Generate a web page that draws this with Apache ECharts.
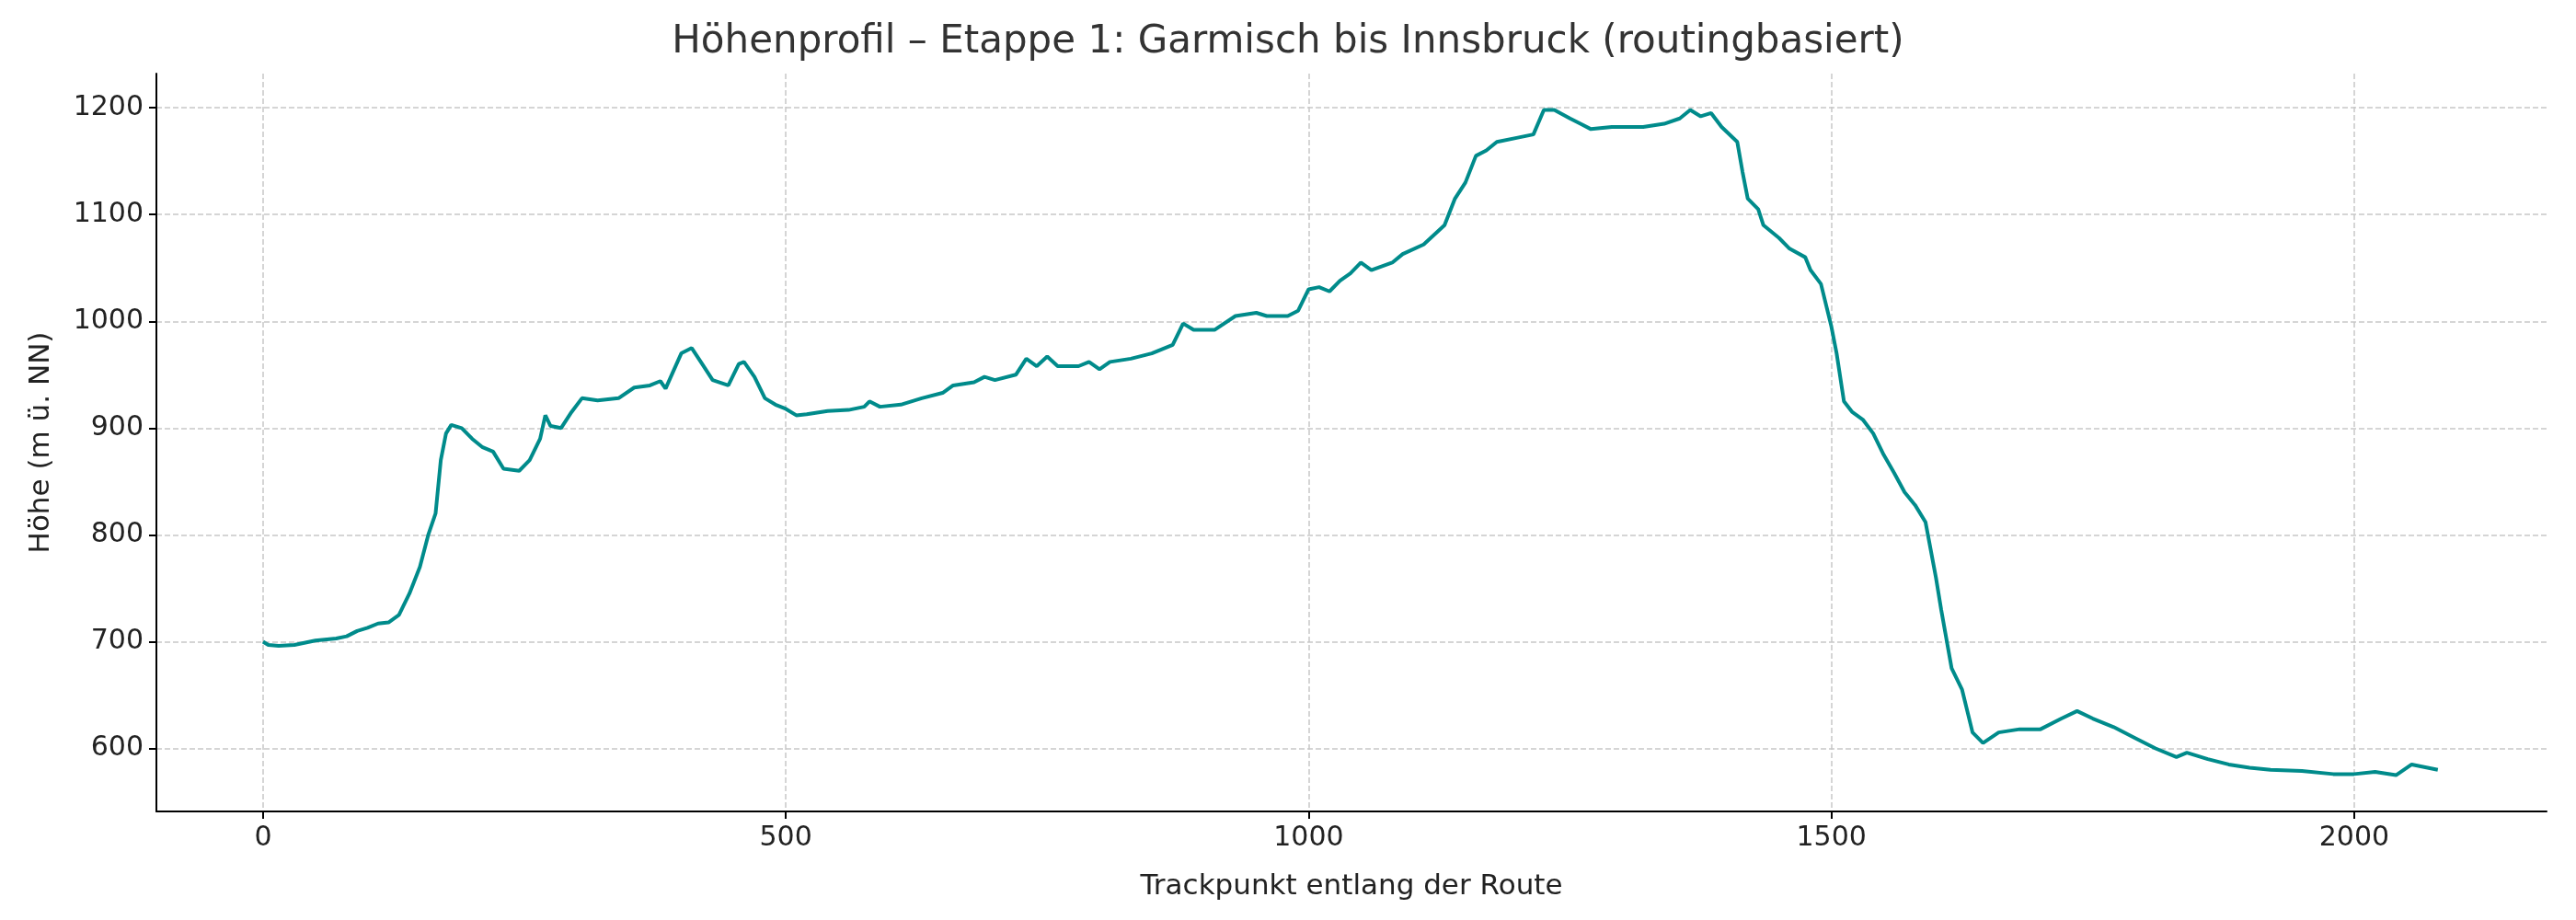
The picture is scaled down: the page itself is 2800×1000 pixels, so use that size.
<!DOCTYPE html>
<html><head><meta charset="utf-8">
<script src="https://cdn.jsdelivr.net/npm/echarts@6/dist/echarts.min.js"></script>
<style>html,body{margin:0;background:#fff}#c{width:2800px;height:1000px}</style>
</head><body><div id="c"></div>
<script>
const xs=[0,5,15,30,50,70,80,90,100,110,120,130,140,150,158,165,170,175,180,190,200,210,220,230,245,255,265,270,275,285,295,305,320,340,355,370,380,385,400,410,420,430,445,455,460,470,480,490,500,510,520,540,560,575,580,590,610,630,650,660,680,690,700,720,730,740,750,760,780,790,800,810,830,850,870,880,890,910,930,950,960,980,990,1000,1010,1020,1030,1040,1050,1060,1080,1090,1110,1130,1140,1150,1160,1170,1180,1200,1215,1225,1235,1250,1260,1270,1290,1320,1340,1355,1365,1375,1385,1395,1410,1415,1420,1430,1435,1450,1460,1475,1480,1490,1500,1505,1512,1520,1530,1540,1550,1560,1570,1580,1590,1600,1605,1615,1625,1635,1645,1660,1680,1700,1720,1735,1750,1770,1790,1810,1830,1840,1860,1880,1900,1920,1950,1980,2000,2020,2040,2055,2080];
const ys=[700,697,696,697,701,703,705,710,713,717,718,725,745,770,800,820,870,895,903,900,890,882,878,862,860,870,890,912,902,900,915,928,926,928,938,940,944,937,970,975,960,945,940,960,962,948,928,922,918,912,913,916,917,920,925,920,922,928,933,940,943,948,945,950,965,958,967,958,958,962,955,962,965,970,978,998,992,992,1005,1008,1005,1005,1010,1030,1032,1028,1038,1045,1055,1048,1055,1063,1072,1090,1115,1130,1155,1160,1168,1172,1175,1198,1198,1190,1185,1180,1182,1182,1185,1190,1198,1192,1195,1182,1168,1140,1115,1105,1090,1078,1068,1060,1048,1035,995,970,925,915,908,895,875,858,840,828,812,760,730,675,655,615,605,615,618,618,628,635,628,620,610,600,592,596,590,585,582,580,579,576,576,578,575,585,580];
const xTicks=[0,500,1000,1500,2000];
const yTicks=[600,700,800,900,1000,1100,1200];
const data=xs.map((x,i)=>[x,ys[i]]);
const ch=echarts.init(document.getElementById('c'));
const F='DejaVu Sans';
ch.setOption({
 animation:false,
 title:{text:'Höhenprofil – Etappe 1: Garmisch bis Innsbruck (routingbasiert)',left:'center',top:20,textStyle:{fontFamily:F,fontSize:42,fontWeight:'normal',color:'#333'}},
 grid:{left:170,right:32,top:80,bottom:118},
 xAxis:{type:'value',min:-102,max:2184,name:'Trackpunkt entlang der Route',nameLocation:'middle',nameGap:66,
  nameTextStyle:{fontFamily:F,fontSize:31,color:'#222'},
  axisLine:{show:true,onZero:false,lineStyle:{color:'#000',width:2}},axisTick:{show:true,length:8,customValues:xTicks,lineStyle:{color:'#000',width:2}},
  axisLabel:{fontFamily:F,fontSize:30,color:'#222',margin:14,customValues:xTicks,formatter:v=>String(v)},
  splitLine:{show:true,lineStyle:{type:'dashed',color:'#c8c8c8',width:1.5}}},
 yAxis:{type:'value',min:541,max:1232,name:'Höhe (m ü. NN)',nameLocation:'middle',nameGap:110,
  nameTextStyle:{fontFamily:F,fontSize:31,color:'#222'},
  axisLine:{show:true,onZero:false,lineStyle:{color:'#000',width:2}},axisTick:{show:true,length:8,lineStyle:{color:'#000',width:2},customValues:yTicks},
  axisLabel:{fontFamily:F,fontSize:30,color:'#222',margin:14,customValues:yTicks,formatter:v=>String(v)},
  splitLine:{show:true,lineStyle:{type:'dashed',color:'#c8c8c8',width:1.5}}},
 series:[{type:'line',data:data,showSymbol:false,lineStyle:{color:'#008b8b',width:4}}]
});
</script></body></html>
